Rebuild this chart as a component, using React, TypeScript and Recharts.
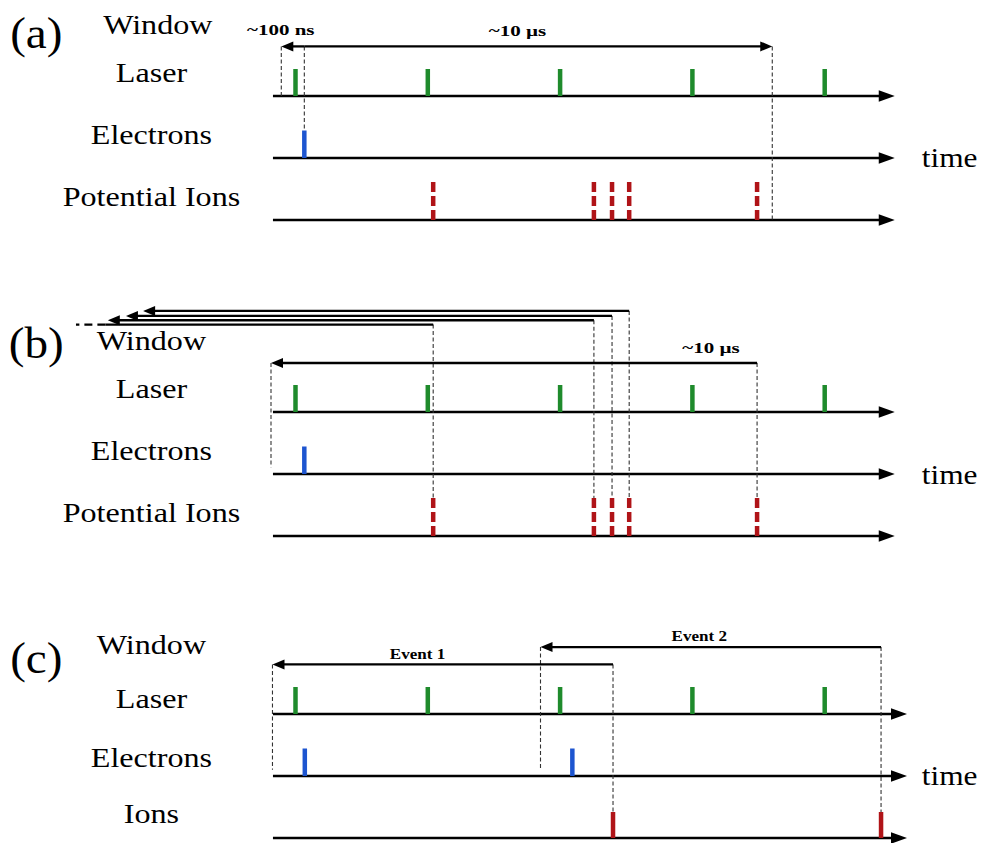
import React from 'react';
import { ComposedChart, XAxis, YAxis, Scatter, ReferenceLine, ReferenceDot } from 'recharts';

// ---------------- data (schematic time axis, µs) ----------------
const LASER_US = [0, 2.7, 5.4, 8.1, 10.8];
const ELECTRON_US_AB = [0.18];
const POTENTIAL_ION_US = [2.81, 6.09, 6.46, 6.81, 9.42];
const ELECTRON_US_C = [0.19, 5.65];
const ION_US_C = [6.48, 11.95];
const DELAY_A_US = 0.47; // "~100 ns" span drawn in (a)
const WINDOW_A_US = 9.55; // "~10 µs" window drawn in (a)
const WINDOW_B_US = 9.92; // windows drawn in (b)
const WINDOW_C_US = 6.95; // event windows drawn in (c)

const ROW_LABELS_AB = ['Window', 'Laser', 'Electrons', 'Potential Ions'];
const ROW_LABELS_C = ['Window', 'Laser', 'Electrons', 'Ions'];
const PANEL_TAGS = ['(a)', '(b)', '(c)'];
const AXIS_UNIT = 'time';
const SPAN_LABELS = ['~100 ns', '~10 µs'];
const EVENT_LABELS = ['Event 1', 'Event 2'];

// ---------------- layout / style ----------------
const ION_ROW = 0;
const ELECTRON_ROW = 1;
const LASER_ROW = 2;
const X_DOMAIN: [number, number] = [-6, 14];
const Y_DOMAIN: [number, number] = [-0.5, 4.5];
const CHART_W = 982;
const CHART_H = 330;
const MARGIN = { top: 10, bottom: 10, left: 1.5, right: 0.5 };
const ROW_PX = (CHART_H - MARGIN.top - MARGIN.bottom) / (Y_DOMAIN[1] - Y_DOMAIN[0]);
const PANEL_TOPS = [-69.5, 247, 549.3];

const GREEN = '#1f8b2c';
const BLUE = '#1d55d0';
const RED = '#b01418';
const LASER_PX = 27;
const ELECTRON_PX = 27.5;
const ION_DASH_PX = 38;
const ION_PX = 26;
const AXIS_START = -0.46;
const AXIS_END_AB = 12.23;
const AXIS_END_C = 12.48;
const LABEL_X = -2.94;
const TAG_X = -5.29;
const UNIT_X = 12.78;
const SERIF = '"Liberation Serif", "Times New Roman", serif';

// --------------- shapes ---------------
const pulseShape = (color: string, h: number, dash?: string) => (p: any) => (
  <line x1={p.cx} x2={p.cx} y1={p.cy - h} y2={p.cy} stroke={color} strokeWidth={4.5} strokeDasharray={dash} />
);

const arrowShape = (head: number, half: number, width: number) => (p: any) => {
  const { x1, y1, x2, y2 } = p;
  if ([x1, y1, x2, y2].some((v) => typeof v !== 'number' || isNaN(v))) return <g />;
  const dx = x2 - x1;
  const dy = y2 - y1;
  const len = Math.hypot(dx, dy) || 1;
  const ux = dx / len;
  const uy = dy / len;
  const bx = x2 - ux * head;
  const by = y2 - uy * head;
  return (
    <g>
      <line x1={x1} y1={y1} x2={bx + ux} y2={by + uy} stroke="#000" strokeWidth={width} />
      <polygon points={`${x2},${y2} ${bx - uy * half},${by + ux * half} ${bx + uy * half},${by - ux * half}`} fill="#000" />
    </g>
  );
};

const textShape = (txt: string, size: number, sx: number, anchor: string, bold = false) => (p: any) => (
  <text
    transform={`translate(${p.cx},${p.cy}) scale(${sx},1)`}
    textAnchor={anchor}
    fontFamily={SERIF}
    fontSize={size}
    fontWeight={bold ? 'bold' : 'normal'}
    fill="#000"
  >
    {txt}
  </text>
);

// --------------- helpers ---------------
const axisArrow = (key: string, row: number, end: number) => (
  <ReferenceLine key={key} segment={[{ x: AXIS_START, y: row }, { x: end, y: row }]} ifOverflow="visible" shape={arrowShape(16, 5.7, 2.5)} />
);
const winArrow = (key: string, from: number, to: number, level: number) => (
  <ReferenceLine key={key} segment={[{ x: from, y: level }, { x: to, y: level }]} ifOverflow="visible" shape={arrowShape(12, 5, 2.3)} />
);
const guide = (key: string, x: number, yTop: number, yBot: number) => (
  <ReferenceLine key={key} segment={[{ x, y: yTop }, { x, y: yBot }]} ifOverflow="visible" stroke="#333" strokeWidth={1.1} strokeDasharray="4 2.5" />
);
const label = (key: string, txt: string, x: number, y: number, size: number, sx: number, anchor = 'middle', bold = false) => (
  <ReferenceDot key={key} x={x} y={y} r={1} ifOverflow="visible" shape={textShape(txt, size, sx, anchor, bold)} />
);
const rowLabels = (prefix: string, names: string[], levels: number[], windowX = LABEL_X) =>
  names.map((n, i) => label(`${prefix}-rl-${i}`, n, i === 0 ? windowX : LABEL_X, levels[i], 27, 1.19));

const pulses = (key: string, times: number[], row: number, color: string, h: number, dash?: string) => (
  <Scatter
    key={key}
    data={times.map((t) => ({ t, row }))}
    dataKey="row"
    isAnimationActive={false}
    shape={pulseShape(color, h, dash)}
  />
);

function Frame({ top, children }: { top: number; children: React.ReactNode }) {
  return (
    <div style={{ position: 'absolute', left: 0, top, width: CHART_W, height: CHART_H }}>
      <ComposedChart width={CHART_W} height={CHART_H} margin={MARGIN}>
        <XAxis dataKey="t" type="number" domain={X_DOMAIN} hide allowDataOverflow />
        <YAxis dataKey="row" type="number" domain={Y_DOMAIN} hide allowDataOverflow />
        {children}
      </ComposedChart>
    </div>
  );
}

function PanelA() {
  const eT = ELECTRON_US_AB[0];
  const win = 2.8;
  return (
    <Frame top={PANEL_TOPS[0]}>
      {[ION_ROW, ELECTRON_ROW, LASER_ROW].map((r) => axisArrow(`ax${r}`, r, AXIS_END_AB))}
      {guide('g1', eT - DELAY_A_US, win, LASER_ROW)}
      {guide('g2', eT, win, ELECTRON_ROW + ELECTRON_PX / ROW_PX)}
      {guide('g3', eT + WINDOW_A_US, win, ION_ROW)}
      {winArrow('w1', eT, eT + WINDOW_A_US, win)}
      {winArrow('w0', eT, eT - DELAY_A_US, win)}
      {pulses('pl', LASER_US, LASER_ROW, GREEN, LASER_PX)}
      {pulses('pe', ELECTRON_US_AB, ELECTRON_ROW, BLUE, ELECTRON_PX)}
      {pulses('pi', POTENTIAL_ION_US, ION_ROW, RED, ION_DASH_PX, '10 4')}
      {rowLabels('a', ROW_LABELS_AB, [3.0, 2.22, 1.23, 0.23], -2.81)}
      {label('tag', PANEL_TAGS[0], TAG_X, 2.78, 44, 1.07)}
      {label('unit', AXIS_UNIT, UNIT_X, 0.85, 28, 1.12, 'start')}
      {label('s0', SPAN_LABELS[0], -0.3, 2.98, 15, 1.4, 'middle', true)}
      {label('s1', SPAN_LABELS[1], 4.53, 2.96, 15, 1.4, 'middle', true)}
    </Frame>
  );
}

function PanelB() {
  const levels = [3.41, 3.48, 3.55, 3.63];
  const main = 2.79;
  const ionTop = ION_DASH_PX / ROW_PX;
  const last = POTENTIAL_ION_US[POTENTIAL_ION_US.length - 1];
  const first = POTENTIAL_ION_US[0];
  const truncSolidEnd = -3.88;
  const truncDashEnd = -4.48;
  return (
    <Frame top={PANEL_TOPS[1]}>
      {[ION_ROW, ELECTRON_ROW, LASER_ROW].map((r) => axisArrow(`ax${r}`, r, AXIS_END_AB))}
      {POTENTIAL_ION_US.slice(0, 4).map((t, i) => guide(`gi${i}`, t, levels[i], ionTop))}
      {guide('glast', last, main, ionTop)}
      {guide('gstart', last - WINDOW_B_US, main, 1.11)}
      <ReferenceLine segment={[{ x: first, y: levels[0] }, { x: truncSolidEnd, y: levels[0] }]} ifOverflow="visible" stroke="#000" strokeWidth={2.3} />
      <ReferenceLine segment={[{ x: truncSolidEnd, y: levels[0] }, { x: truncDashEnd, y: levels[0] }]} ifOverflow="visible" stroke="#000" strokeWidth={2.3} strokeDasharray="8 5" />
      {POTENTIAL_ION_US.slice(1, 4).map((t, i) => winArrow(`wa${i}`, t, t - WINDOW_B_US, levels[i + 1]))}
      {winArrow('wmain', last, last - WINDOW_B_US, main)}
      {pulses('pl', LASER_US, LASER_ROW, GREEN, LASER_PX)}
      {pulses('pe', ELECTRON_US_AB, ELECTRON_ROW, BLUE, ELECTRON_PX)}
      {pulses('pi', POTENTIAL_ION_US, ION_ROW, RED, ION_DASH_PX, '10 4')}
      {rowLabels('b', ROW_LABELS_AB, [3.0, 2.23, 1.23, 0.23])}
      {label('tag', PANEL_TAGS[1], TAG_X, 2.87, 44, 1.07)}
      {label('unit', AXIS_UNIT, UNIT_X, 0.84, 28, 1.12, 'start')}
      {label('s1', SPAN_LABELS[1], 8.48, 2.95, 15, 1.4, 'middle', true)}
    </Frame>
  );
}

function PanelC() {
  const levels = [2.8, 3.08];
  const ionTop = ION_PX / ROW_PX;
  return (
    <Frame top={PANEL_TOPS[2]}>
      {[ION_ROW, ELECTRON_ROW, LASER_ROW].map((r) => axisArrow(`ax${r}`, r, AXIS_END_C))}
      {ION_US_C.map((t, i) => guide(`ge${i}`, t, levels[i], ionTop))}
      {ION_US_C.map((t, i) => guide(`gs${i}`, t - WINDOW_C_US, levels[i], 1.1))}
      {ION_US_C.map((t, i) => winArrow(`w${i}`, t, t - WINDOW_C_US, levels[i]))}
      {pulses('pl', LASER_US, LASER_ROW, GREEN, LASER_PX)}
      {pulses('pe', ELECTRON_US_C, ELECTRON_ROW, BLUE, ELECTRON_PX)}
      {pulses('pi', ION_US_C, ION_ROW, RED, ION_PX)}
      {rowLabels('c', ROW_LABELS_C, [2.97, 2.1, 1.15, 0.24])}
      {label('tag', PANEL_TAGS[2], TAG_X, 2.66, 44, 1.07)}
      {label('unit', AXIS_UNIT, UNIT_X, 0.85, 28, 1.12, 'start')}
      {label('e1', EVENT_LABELS[0], 2.49, 2.88, 14, 1.22, 'middle', true)}
      {label('e2', EVENT_LABELS[1], 8.24, 3.18, 14, 1.22, 'middle', true)}
    </Frame>
  );
}

export default function App() {
  return (
    <div
      style={{
        position: 'absolute',
        left: 0,
        top: 0,
        width: 982,
        height: 843,
        overflow: 'hidden',
        background: '#fff',
      }}
    >
      <PanelA />
      <PanelB />
      <PanelC />
    </div>
  );
}
